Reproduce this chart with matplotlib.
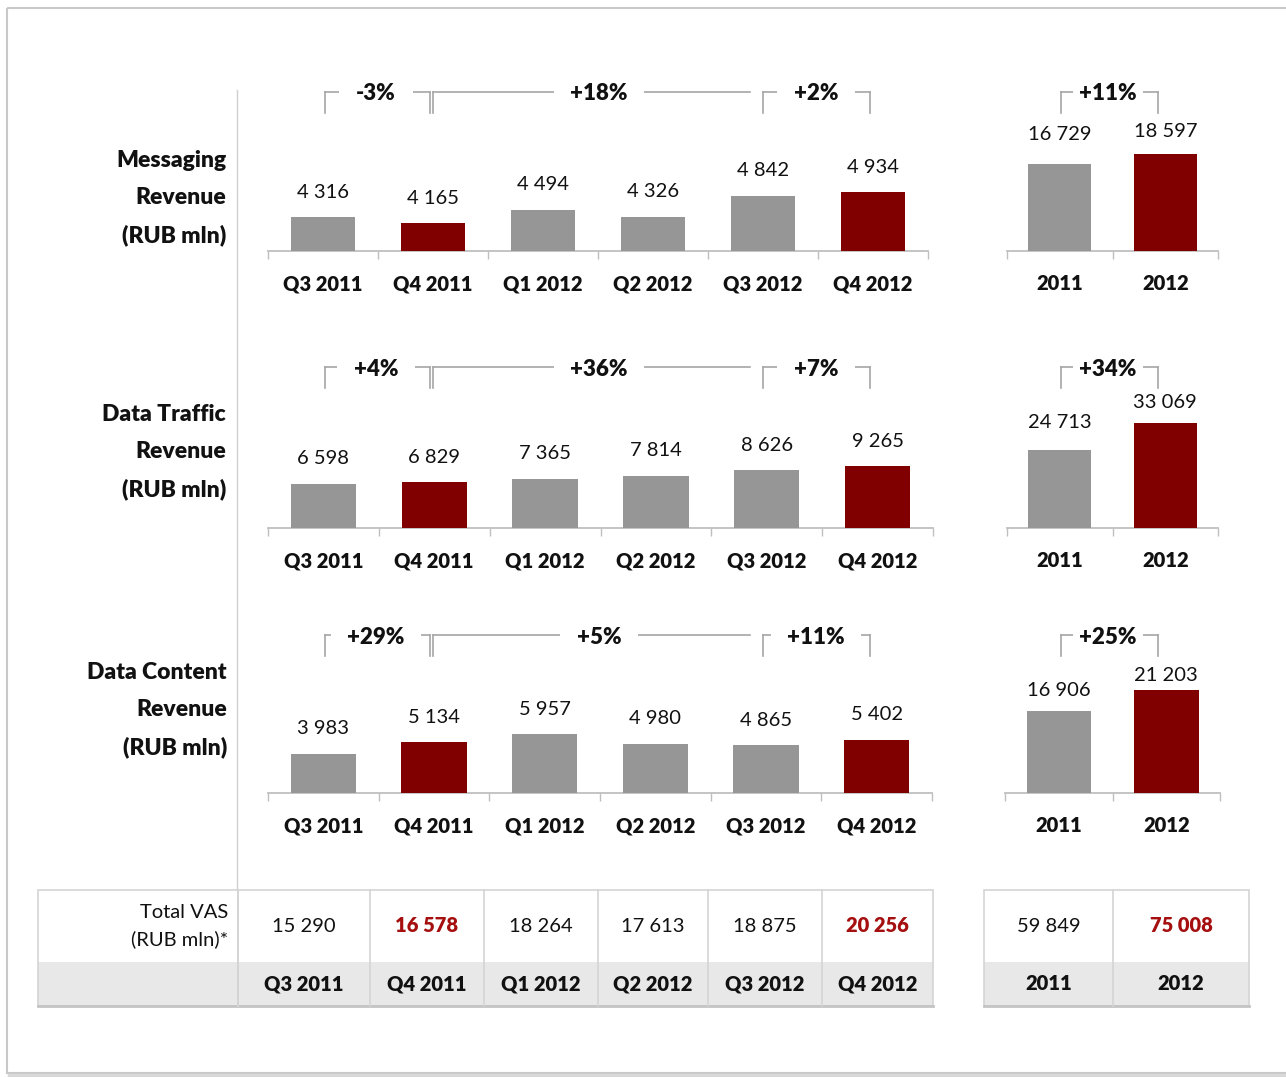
import matplotlib
matplotlib.use("Agg")
import matplotlib.pyplot as plt
from matplotlib.patches import Rectangle
from matplotlib.lines import Line2D

plt.rcParams['font.family'] = ['Lato', 'DejaVu Sans']

# ---------------------------------------------------------------- data
quarters = ["Q3 2011", "Q4 2011", "Q1 2012", "Q2 2012", "Q3 2012", "Q4 2012"]
years = ["2011", "2012"]

messaging_q = [4316, 4165, 4494, 4326, 4842, 4934]
messaging_y = [16729, 18597]
traffic_q = [6598, 6829, 7365, 7814, 8626, 9265]
traffic_y = [24713, 33069]
content_q = [3983, 5134, 5957, 4980, 4865, 5402]
content_y = [16906, 21203]

messaging_growth = ["-3%", "+18%", "+2%"]
traffic_growth = ["+4%", "+36%", "+7%"]
content_growth = ["+29%", "+5%", "+11%"]
annual_growth = ["+11%", "+34%", "+25%"]

row_titles = [["Messaging", "Revenue", "(RUB mln)"],
              ["Data Traffic", "Revenue", "(RUB mln)"],
              ["Data Content", "Revenue", "(RUB mln)"]]

total_vas_label = ["Total VAS", "(RUB mln)*"]
total_vas_q = [15290, 16578, 18264, 17613, 18875, 20256]
total_vas_y = [59849, 75008]

highlight_q = [1, 5]      # Q4 periods
highlight_y = [1]         # latest year

# ---------------------------------------------------------------- style
W, H, DPI = 1286, 1077, 100
GREY = "#969696"
RED = "#800000"
RED_TXT = "#a50f0f"
LINE = "#bfbfbf"
BRK = "#a6a6a6"
INK = "#111111"
BOLD = "heavy"
PT = 72.0 / DPI  # pixels -> points


def fmt(v):
    return f"{v:,}".replace(",", " ")


def fig_box(x0, y0, x1, y1):
    return [x0 / W, 1 - y1 / H, (x1 - x0) / W, (y1 - y0) / H]


fig = plt.figure(figsize=(W / DPI, H / DPI), dpi=DPI)
fig.patch.set_facecolor("white")

# overlay in pixel coordinates for frame, titles, brackets and table
ov = fig.add_axes([0, 0, 1, 1], zorder=0)
ov.set_xlim(0, W)
ov.set_ylim(H, 0)
ov.axis("off")

# outer frame with soft bottom shadow
ov.add_patch(Rectangle((7, 8), W + 20, 1065, fill=False, ec="#c8c8c8", lw=1.5))
ov.add_line(Line2D([9, W], [1075, 1075], color="#d8d8d8", lw=2.5))

# divider between titles and charts
ov.add_line(Line2D([237, 237], [90, 890], color="#d0d0d0", lw=1.0))

rows = [
    dict(q=messaging_q, y=messaging_y, g=messaging_growth, ga=annual_growth[0],
         base=251, top=100, qx=(268, 928), qlim=(3480, 7210),
         yx=(1007, 1218), ylim=(0, 29040), yoff=(30, 23),
         by=92, ty=197, tr=226),
    dict(q=traffic_q, y=traffic_y, g=traffic_growth, ga=annual_growth[1],
         base=528, top=380, qx=(268, 933), qlim=(0, 22155),
         yx=(1007, 1218), ylim=(0, 46690), yoff=(27, 21),
         by=367, ty=451, tr=226),
    dict(q=content_q, y=content_y, g=content_growth, ga=annual_growth[2],
         base=793, top=640, qx=(268, 932), qlim=(0, 15533),
         yx=(1005, 1220), ylim=(0, 31546), yoff=(21, 15),
         by=635, ty=709, tr=227),
]

# bracket layout: (left x, right x, text x, line end x, right tick, text pad)
q_brackets = [(325, 430, 376, 430, True, 0.75),
              (433, 766, 599, 750, False, 0.75),
              (763, 870, 816, 870, True, 0.75)]
y_bracket = (1061, 1158, 1108, 1158, True, 0.3)
BRK_LEN = 21


def bar_panel(x0, x1, base, top, ylim, labels, values, hl, width, offsets):
    ax = fig.add_axes(fig_box(x0, top, x1, base), zorder=2)
    ax.set_facecolor("none")
    n = len(values)
    colors = [RED if i in hl else GREY for i in range(n)]
    ax.bar(range(n), values, width=width, color=colors, zorder=3)
    ax.set_xlim(-0.5, n - 0.5)
    ax.set_ylim(*ylim)
    for s in ["top", "right", "left"]:
        ax.spines[s].set_visible(False)
    ax.spines["bottom"].set_color(LINE)
    ax.spines["bottom"].set_linewidth(1.3)
    ax.set_yticks([])
    ax.set_xticks([i - 0.5 for i in range(n + 1)])
    ax.set_xticklabels([])
    ax.tick_params(axis="x", length=8 * PT, width=1.0, color=LINE, direction="out")
    for i, v in enumerate(values):
        ax.annotate(fmt(v), (i, v), xytext=(0, offsets[i] * PT),
                    textcoords="offset points", ha="center", va="center",
                    fontsize=14.5, color=INK, annotation_clip=False)
        ax.annotate(labels[i], (i, 0), xycoords=("data", "axes fraction"),
                    xytext=(0, -33 * PT), textcoords="offset points",
                    ha="center", va="center", fontsize=14.5, fontweight=BOLD,
                    color=INK, annotation_clip=False)
    return ax


def bracket(xl, xr, xt, xend, right_tick, pad, y, text):
    ov.add_line(Line2D([xl, xl], [y + BRK_LEN, y], color=BRK, lw=1.2))
    ov.add_line(Line2D([xl, xend], [y, y], color=BRK, lw=1.2))
    if right_tick:
        ov.add_line(Line2D([xr, xr], [y, y + BRK_LEN], color=BRK, lw=1.2))
    ov.text(xt, y + 2, text, ha="center", va="center", fontsize=16,
            fontweight=BOLD, color=INK, zorder=5,
            bbox=dict(boxstyle=f"square,pad={pad}", fc="white", ec="none"))


for r, titles in zip(rows, row_titles):
    bar_panel(*r["qx"], r["base"], r["top"], r["qlim"], quarters, r["q"],
              highlight_q, 0.59, [25] * len(r["q"]))
    bar_panel(*r["yx"], r["base"], r["top"], r["ylim"], years, r["y"],
              highlight_y, 0.6, r["yoff"])
    for k, line in enumerate(titles):
        ov.text(r["tr"], r["ty"] + 1 + (k - 1) * 37.5, line, ha="right",
                va="center", fontsize=16.5, fontweight=BOLD, color=INK)
    for spec, txt in zip(q_brackets, r["g"]):
        bracket(*spec, r["by"], txt)
    bracket(*y_bracket, r["by"], r["ga"])

# ---------------------------------------------------------------- table
TB_TOP, TB_MID, TB_BOT = 890, 962, 1006
BORDER = "#d4d4d4"
q_cols = [238, 370, 484, 598, 708, 822, 933]
y_cols = [984, 1113, 1249]


def table_block(x_left, cols, values, labels, hl):
    x_right = cols[-1]
    ov.add_patch(Rectangle((x_left, TB_MID), x_right - x_left, TB_BOT - TB_MID,
                           fc="#e8e8e8", ec="none", zorder=1))
    ov.add_patch(Rectangle((x_left, TB_TOP), x_right - x_left, TB_BOT - TB_TOP,
                           fill=False, ec=BORDER, lw=1.2, zorder=3))
    ov.add_line(Line2D([x_left, x_right], [TB_BOT, TB_BOT], color="#c4c4c4",
                       lw=2.0, zorder=3))
    for c in cols[:-1]:
        if c != x_left:
            ov.add_line(Line2D([c, c], [TB_TOP, TB_BOT], color=BORDER, lw=1.2, zorder=3))
    for i, (v, lab) in enumerate(zip(values, labels)):
        xc = (cols[i] + cols[i + 1]) / 2
        red = i in hl
        ov.text(xc, 926, fmt(v), ha="center", va="center", fontsize=14.5,
                color=RED_TXT if red else INK,
                fontweight=BOLD if red else "normal", zorder=4)
        ov.text(xc, 984, lab, ha="center", va="center", fontsize=14.5,
                fontweight=BOLD, color=INK, zorder=4)


table_block(38, q_cols, total_vas_q, quarters, highlight_q)
ov.add_line(Line2D([238, 238], [TB_TOP, TB_BOT], color=BORDER, lw=1.2, zorder=3))
table_block(984, y_cols, total_vas_y, years, highlight_y)

ov.text(228, 913, total_vas_label[0], ha="right", va="center", fontsize=14.5,
        color=INK)
ov.text(228, 939, total_vas_label[1], ha="right", va="center", fontsize=14.5,
        color=INK)

fig.savefig("out.png", dpi=DPI, facecolor="white")
